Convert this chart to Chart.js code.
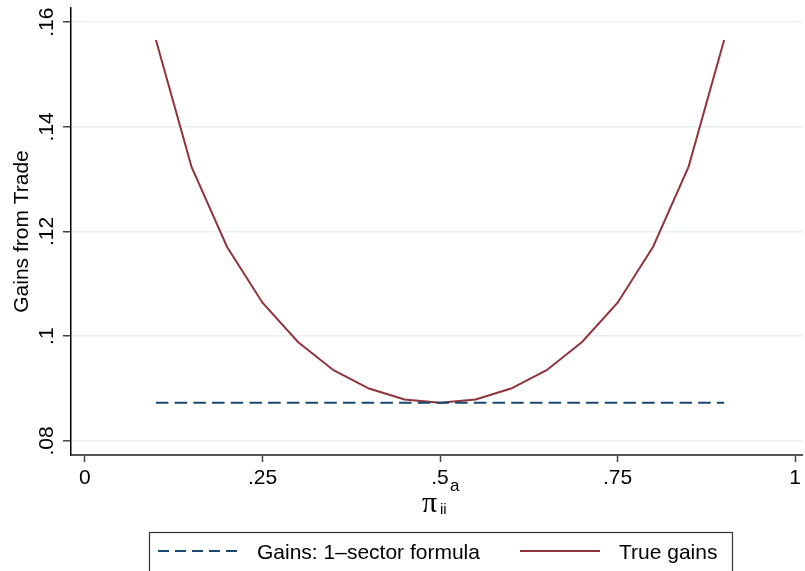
<!DOCTYPE html>
<html>
<head>
<meta charset="utf-8">
<script src="https://cdn.jsdelivr.net/npm/chart.js@4.4.0/dist/chart.umd.min.js"></script>
<style>
  html, body { margin: 0; padding: 0; background: #fff; }
  #wrap { width: 805px; height: 571px; }
</style>
</head>
<body>
<div id="wrap"><canvas id="chart" width="805" height="571"></canvas></div>
<script>
// Data
const shareValues = [0.10, 0.15, 0.20, 0.25, 0.30, 0.35, 0.40, 0.45, 0.50,
                     0.55, 0.60, 0.65, 0.70, 0.75, 0.80, 0.85, 0.90];
const trueGains = [0.1566, 0.1324, 0.1171, 0.1064, 0.0989, 0.0935, 0.0900, 0.0879, 0.0873,
                   0.0879, 0.0900, 0.0935, 0.0989, 0.1064, 0.1171, 0.1324, 0.1566];
const oneSectorGains = [0.0873, 0.0873, 0.0873, 0.0873, 0.0873, 0.0873, 0.0873, 0.0873, 0.0873,
                        0.0873, 0.0873, 0.0873, 0.0873, 0.0873, 0.0873, 0.0873, 0.0873];
const xTicks = [0, 0.25, 0.5, 0.75, 1];
const yTicks = [0.08, 0.10, 0.12, 0.14, 0.16];

const navy = "#1a476f";
const maroon = "#90353b";
const sans = "'Liberation Sans', Arial, Helvetica, sans-serif";

Chart.defaults.font.family = sans;
Chart.defaults.color = "#000";

// stata style: drop the leading zero
function fmt(v) {
    return String(+v.toFixed(2)).replace(/^0\./, ".");
}

function toPoints(xs, ys) {
    return xs.map((x, i) => ({ x: x, y: ys[i] }));
}

// y tick labels (rotated), x axis title and the boxed legend
const extras = {
    id: "extras",
    afterDraw(chart) {
        const ctx = chart.ctx;
        const y = chart.scales.y;
        ctx.save();
        ctx.fillStyle = "#000";
        ctx.font = "21px " + sans;
        ctx.textAlign = "center";
        ctx.textBaseline = "alphabetic";
        yTicks.forEach(v => {
            const py = y.getPixelForValue(v);
            ctx.save();
            ctx.translate(53, py);
            ctx.rotate(-Math.PI / 2);
            ctx.fillText(fmt(v), 0, 0);
            ctx.restore();
        });

        // x title: pi_ii^a
        ctx.textAlign = "left";
        ctx.font = "30px 'Liberation Serif', 'DejaVu Serif', serif";
        ctx.fillText("\u03c0", 422, 512);
        ctx.font = "15px " + sans;
        ctx.fillText("ii", 440, 514);
        ctx.font = "17px " + sans;
        ctx.fillText("a", 450, 491);

        // legend
        ctx.strokeStyle = "#333";
        ctx.lineWidth = 1.2;
        ctx.strokeRect(149.5, 532.5, 583, 60);

        ctx.lineWidth = 2;
        ctx.strokeStyle = navy;
        ctx.setLineDash([11, 6]);
        ctx.beginPath();
        ctx.moveTo(158, 551);
        ctx.lineTo(237, 551);
        ctx.stroke();

        ctx.setLineDash([]);
        ctx.strokeStyle = maroon;
        ctx.beginPath();
        ctx.moveTo(520, 551);
        ctx.lineTo(600, 551);
        ctx.stroke();

        ctx.font = "21px " + sans;
        ctx.fillText("Gains: 1\u2013sector formula", 257, 559);
        ctx.fillText("True gains", 619, 559);
        ctx.restore();
    }
};

new Chart(document.getElementById("chart").getContext("2d"), {
    type: "line",
    data: {
        datasets: [{
            label: "Gains: 1\u2013sector formula",
            data: toPoints(shareValues, oneSectorGains),
            borderColor: navy,
            borderWidth: 2,
            borderDash: [12.5, 6.2],
            pointRadius: 0,
            tension: 0,
            fill: false
        }, {
            label: "True gains",
            data: toPoints(shareValues, trueGains),
            borderColor: maroon,
            borderWidth: 2,
            pointRadius: 0,
            tension: 0,
            fill: false
        }]
    },
    options: {
        responsive: false,
        animation: false,
        devicePixelRatio: 1,
        layout: { padding: { top: 8, left: 0, right: 0, bottom: 0 } },
        plugins: {
            legend: { display: false },
            tooltip: { enabled: false }
        },
        scales: {
            x: {
                type: "linear",
                min: -0.0196,
                max: 1.0102,
                afterBuildTicks: s => { s.ticks = xTicks.map(v => ({ value: v })); },
                afterFit: s => { s.height = 116; },
                grid: { drawOnChartArea: false, tickLength: 7, tickColor: "#444", tickWidth: 1.5 },
                border: { color: "#555", width: 2 },
                ticks: {
                    font: { size: 21 },
                    color: "#000",
                    padding: 4,
                    maxRotation: 0,
                    autoSkip: false,
                    callback: v => fmt(v)
                }
            },
            y: {
                type: "linear",
                min: 0.0773,
                max: 0.1627,
                afterBuildTicks: s => { s.ticks = yTicks.map(v => ({ value: v })); },
                afterFit: s => { s.width = 71; },
                grid: { color: "#e8eff2", lineWidth: 1.5, tickLength: 8, tickColor: "#444", tickWidth: 1.5 },
                border: { color: "#000", width: 1.5 },
                ticks: { display: false },
                title: {
                    display: true,
                    text: "Gains from Trade",
                    font: { size: 21 },
                    color: "#000",
                    padding: { top: 10, bottom: 0 }
                }
            }
        }
    },
    plugins: [extras]
});
</script>
</body>
</html>
